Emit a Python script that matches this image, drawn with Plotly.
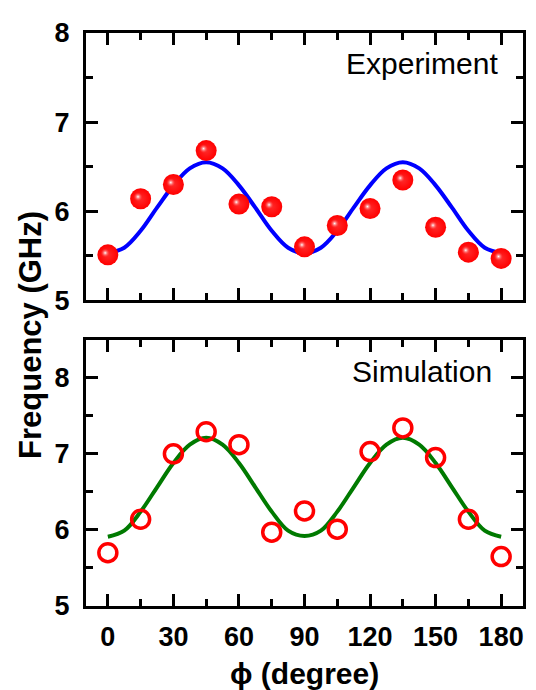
import plotly.graph_objects as go

# ---- data ----
phi = [0, 15, 30, 45, 60, 75, 90, 105, 120, 135, 150, 165, 180]
exp_freq = [5.51, 6.14, 6.30, 6.68, 6.08, 6.05, 5.60, 5.84, 6.03, 6.35, 5.82, 5.54, 5.47]
sim_freq = [5.70, 6.14, 7.00, 7.29, 7.12, 5.97, 6.25, 6.01, 7.03, 7.34, 6.95, 6.14, 5.65]

curve_phi = [0, 7.5, 15, 22.5, 30, 37.5, 45, 52.5, 60, 67.5, 75, 82.5, 90,
             97.5, 105, 112.5, 120, 127.5, 135, 142.5, 150, 157.5, 165, 172.5, 180]
exp_fit = [5.53, 5.59, 5.78, 6.04, 6.29, 6.48, 6.55, 6.48, 6.29, 6.04, 5.78, 5.59, 5.53,
           5.59, 5.78, 6.04, 6.29, 6.48, 6.55, 6.48, 6.29, 6.04, 5.78, 5.59, 5.53]
sim_fit = [5.91, 5.99, 6.24, 6.56, 6.88, 7.12, 7.21, 7.12, 6.88, 6.56, 6.24, 5.99, 5.92,
           5.99, 6.24, 6.56, 6.88, 7.12, 7.21, 7.12, 6.88, 6.56, 6.24, 5.99, 5.91]

x_ticks = [0, 30, 60, 90, 120, 150, 180]
y_ticks = [5, 6, 7, 8]

FONT = "Liberation Sans, Arial, sans-serif"

fig = go.Figure()

# top: fitted curve + sphere markers
fig.add_trace(go.Scatter(x=curve_phi, y=exp_fit, mode="lines", line=dict(color="#0000ff", width=4, shape="spline"),
                         xaxis="x", yaxis="y", showlegend=False, hoverinfo="skip"))
fig.add_trace(go.Scatter(x=phi, y=exp_freq, mode="markers",
                         marker=dict(size=21, color="#ff0000", line=dict(width=0),
                                     gradient=dict(type="radial", color="#ff2a2a")),
                         xaxis="x", yaxis="y", showlegend=False))
fig.add_trace(go.Scatter(x=phi, y=exp_freq, mode="markers",
                         marker=dict(size=9, color="rgba(255,60,60,0)", line=dict(width=0),
                                     gradient=dict(type="radial", color="#ffffff")),
                         xaxis="x3", yaxis="y3", showlegend=False, hoverinfo="skip"))

# bottom: fitted curve + open circles
fig.add_trace(go.Scatter(x=curve_phi, y=sim_fit, mode="lines", line=dict(color="#007a00", width=4, shape="spline"),
                         xaxis="x2", yaxis="y2", showlegend=False, hoverinfo="skip"))
fig.add_trace(go.Scatter(x=phi, y=sim_freq, mode="markers",
                         marker=dict(size=18, symbol="circle-open", color="#ff0000", line=dict(width=3.5, color="#ff0000")),
                         xaxis="x2", yaxis="y2", showlegend=False))

common_x = dict(range=[-10, 190], tickvals=x_ticks, ticks="inside", ticklen=12, tickwidth=2.5,
                tickcolor="black", showline=True, linewidth=3, linecolor="black", mirror="allticks",
                showgrid=False, zeroline=False,
                minor=dict(dtick=15, tick0=0, ticks="inside", ticklen=7, tickwidth=2.5, tickcolor="black", showgrid=False),
                tickfont=dict(family=FONT, size=27, color="black", weight="bold"))
common_y = dict(tickvals=y_ticks, ticks="inside", ticklen=12, tickwidth=2.5, tickcolor="black",
                showline=True, linewidth=3, linecolor="black", mirror="allticks",
                showgrid=False, zeroline=False,
                minor=dict(dtick=0.5, tick0=5, ticks="inside", ticklen=7, tickwidth=2.5, tickcolor="black", showgrid=False),
                tickfont=dict(family=FONT, size=27, color="black", weight="bold"), ticklabelstandoff=8)

top_dom = [0.5335, 1.0]
bot_dom = [0.0, 0.4648]

# page has an 8px body margin, so the figure is sized 8px smaller to fit the window
fig.update_layout(
    width=528, height=682,
    margin=dict(l=78, r=10, t=15, b=84),
    paper_bgcolor="white", plot_bgcolor="white",
    xaxis=dict(common_x, domain=[0, 1], anchor="y", showticklabels=False),
    yaxis=dict(common_y, domain=top_dom, anchor="x", range=[5, 8]),
    xaxis2=dict(common_x, domain=[0, 1], anchor="y2", ticklabelstandoff=5),
    yaxis2=dict(common_y, domain=bot_dom, anchor="x2", range=[5, 8.5]),
    xaxis3=dict(overlaying="x", anchor="y3", range=[-10 + 1.2, 190 + 1.2], visible=False),
    yaxis3=dict(overlaying="y", anchor="x3", range=[5 - 0.022, 8 - 0.022], visible=False),
    annotations=[
        dict(text="Experiment", xref="paper", yref="paper", x=0.948, y=0.947, xanchor="right", yanchor="middle",
             showarrow=False, font=dict(family=FONT, size=30, color="black")),
        dict(text="Simulation", xref="paper", yref="paper", x=0.934, y=0.41, xanchor="right", yanchor="middle",
             showarrow=False, font=dict(family=FONT, size=30, color="black")),
        dict(text="ϕ (degree)", xref="paper", yref="paper", x=0.5, y=0, yshift=-67, xanchor="center", yanchor="middle",
             showarrow=False, font=dict(family=FONT, size=30, color="black", weight="bold")),
        dict(text="Frequency (GHz)", xref="paper", yref="paper", x=0, xshift=-55, y=0.473, textangle=-90,
             xanchor="center", yanchor="middle",
             showarrow=False, font=dict(family=FONT, size=31, color="black", weight="bold")),
    ],
)

fig.write_html("out.html")
